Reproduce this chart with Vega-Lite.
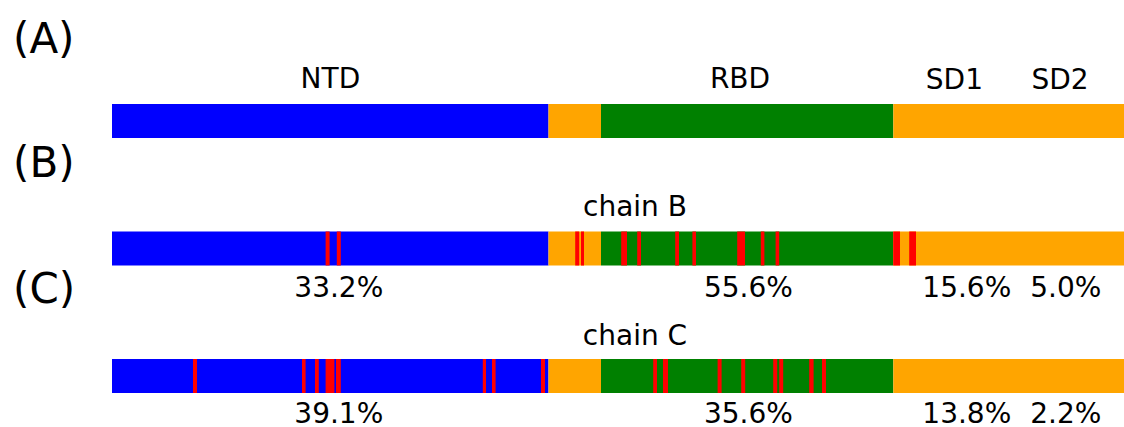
{
  "$schema": "https://vega.github.io/schema/vega-lite/v6.json",
  "width": 1124,
  "height": 427,
  "autosize": {"type": "none"},
  "padding": 0,
  "background": "white",
  "config": {"view": {"stroke": null}},
  "datasets": {
    "segments": [
      {"row": 0, "part": "NTD", "start": 0, "end": 109.125},
      {"row": 0, "part": "linker", "start": 109.125, "end": 122.25},
      {"row": 0, "part": "RBD", "start": 122.25, "end": 195.33},
      {"row": 0, "part": "SD", "start": 195.33, "end": 253},
      {"row": 1, "part": "NTD", "start": 0, "end": 109.125},
      {"row": 1, "part": "linker", "start": 109.125, "end": 122.25},
      {"row": 1, "part": "RBD", "start": 122.25, "end": 195.33},
      {"row": 1, "part": "SD", "start": 195.33, "end": 253},
      {"row": 2, "part": "NTD", "start": 0, "end": 109.125},
      {"row": 2, "part": "linker", "start": 109.125, "end": 122.25},
      {"row": 2, "part": "RBD", "start": 122.25, "end": 195.33},
      {"row": 2, "part": "SD", "start": 195.33, "end": 253}
    ],
    "contacts": [
      {"row": 1, "start": 53.4, "end": 54.4},
      {"row": 1, "start": 56.2, "end": 57.2},
      {"row": 1, "start": 115.8, "end": 116.8},
      {"row": 1, "start": 117.25, "end": 118},
      {"row": 1, "start": 127.3, "end": 128.75},
      {"row": 1, "start": 131.3, "end": 132.25},
      {"row": 1, "start": 140.8, "end": 141.75},
      {"row": 1, "start": 145.1, "end": 146},
      {"row": 1, "start": 156.3, "end": 158.25},
      {"row": 1, "start": 162.2, "end": 163.1},
      {"row": 1, "start": 165.9, "end": 166.8},
      {"row": 1, "start": 195.3, "end": 197},
      {"row": 1, "start": 199.3, "end": 201},
      {"row": 2, "start": 20.25, "end": 21.25},
      {"row": 2, "start": 47.5, "end": 48.4},
      {"row": 2, "start": 50.75, "end": 51.7},
      {"row": 2, "start": 53.4, "end": 55.6},
      {"row": 2, "start": 56.0, "end": 57.2},
      {"row": 2, "start": 92.7, "end": 93.5},
      {"row": 2, "start": 95.0, "end": 95.9},
      {"row": 2, "start": 107.25, "end": 108.25},
      {"row": 2, "start": 135.3, "end": 136.25},
      {"row": 2, "start": 137.75, "end": 139},
      {"row": 2, "start": 151.4, "end": 152.4},
      {"row": 2, "start": 157.3, "end": 158.3},
      {"row": 2, "start": 165.3, "end": 166.3},
      {"row": 2, "start": 166.8, "end": 167.8},
      {"row": 2, "start": 174.3, "end": 175.4},
      {"row": 2, "start": 177.5, "end": 178.5}
    ],
    "labels": [
      {"kind": "domain", "x": 54.6, "y": -0.256, "text": "NTD"},
      {"kind": "domain", "x": 157, "y": -0.256, "text": "RBD"},
      {"kind": "domain", "x": 210.6, "y": -0.25, "text": "SD1"},
      {"kind": "domain", "x": 237, "y": -0.25, "text": "SD2"},
      {"kind": "domain", "x": 130.75, "y": 0.747, "text": "chain B"},
      {"kind": "domain", "x": 130.75, "y": 1.754, "text": "chain C"},
      {"kind": "domain", "x": 56.7, "y": 1.383, "text": "33.2%"},
      {"kind": "domain", "x": 159.1, "y": 1.383, "text": "55.6%"},
      {"kind": "domain", "x": 213.7, "y": 1.383, "text": "15.6%"},
      {"kind": "domain", "x": 238.45, "y": 1.383, "text": "5.0%"},
      {"kind": "domain", "x": 56.7, "y": 2.365, "text": "39.1%"},
      {"kind": "domain", "x": 159.1, "y": 2.365, "text": "35.6%"},
      {"kind": "domain", "x": 213.7, "y": 2.365, "text": "13.8%"},
      {"kind": "domain", "x": 238.45, "y": 2.365, "text": "2.2%"},
      {"kind": "panel", "x": -24.75, "y": -0.531, "text": "(A)"},
      {"kind": "panel", "x": -24.75, "y": 0.437, "text": "(B)"},
      {"kind": "panel", "x": -24.75, "y": 1.43, "text": "(C)"}
    ]
  },
  "encoding": {
    "x": {"type": "quantitative", "scale": {"domain": [-28, 253], "nice": false, "zero": false}, "axis": null},
    "y": {"type": "quantitative", "scale": {"domain": [-0.949, 2.4], "nice": false, "zero": false, "reverse": true}, "axis": null}
  },
  "layer": [
    {
      "data": {"name": "segments"},
      "mark": {"type": "rule", "strokeWidth": 34, "strokeCap": "butt"},
      "encoding": {
        "x": {"field": "start", "type": "quantitative"},
        "x2": {"field": "end"},
        "y": {"field": "row", "type": "quantitative"},
        "color": {
          "field": "part",
          "type": "nominal",
          "scale": {"domain": ["NTD", "linker", "RBD", "SD"], "range": ["#0000ff", "#ffa500", "#008000", "#ffa500"]},
          "legend": null
        }
      }
    },
    {
      "data": {"name": "contacts"},
      "mark": {"type": "rule", "strokeWidth": 34, "strokeCap": "butt", "color": "#ff0000"},
      "encoding": {
        "x": {"field": "start", "type": "quantitative"},
        "x2": {"field": "end"},
        "y": {"field": "row", "type": "quantitative"}
      }
    },
    {
      "data": {"name": "labels"},
      "transform": [{"filter": "datum.kind === 'domain'"}],
      "mark": {"type": "text", "font": "DejaVu Sans", "fontSize": 28, "align": "center", "baseline": "alphabetic", "color": "black"},
      "encoding": {
        "x": {"field": "x", "type": "quantitative"},
        "y": {"field": "y", "type": "quantitative"},
        "text": {"field": "text"}
      }
    },
    {
      "data": {"name": "labels"},
      "transform": [{"filter": "datum.kind === 'panel'"}],
      "mark": {"type": "text", "font": "DejaVu Sans", "fontSize": 42, "align": "left", "baseline": "alphabetic", "color": "black"},
      "encoding": {
        "x": {"field": "x", "type": "quantitative"},
        "y": {"field": "y", "type": "quantitative"},
        "text": {"field": "text"}
      }
    }
  ]
}
